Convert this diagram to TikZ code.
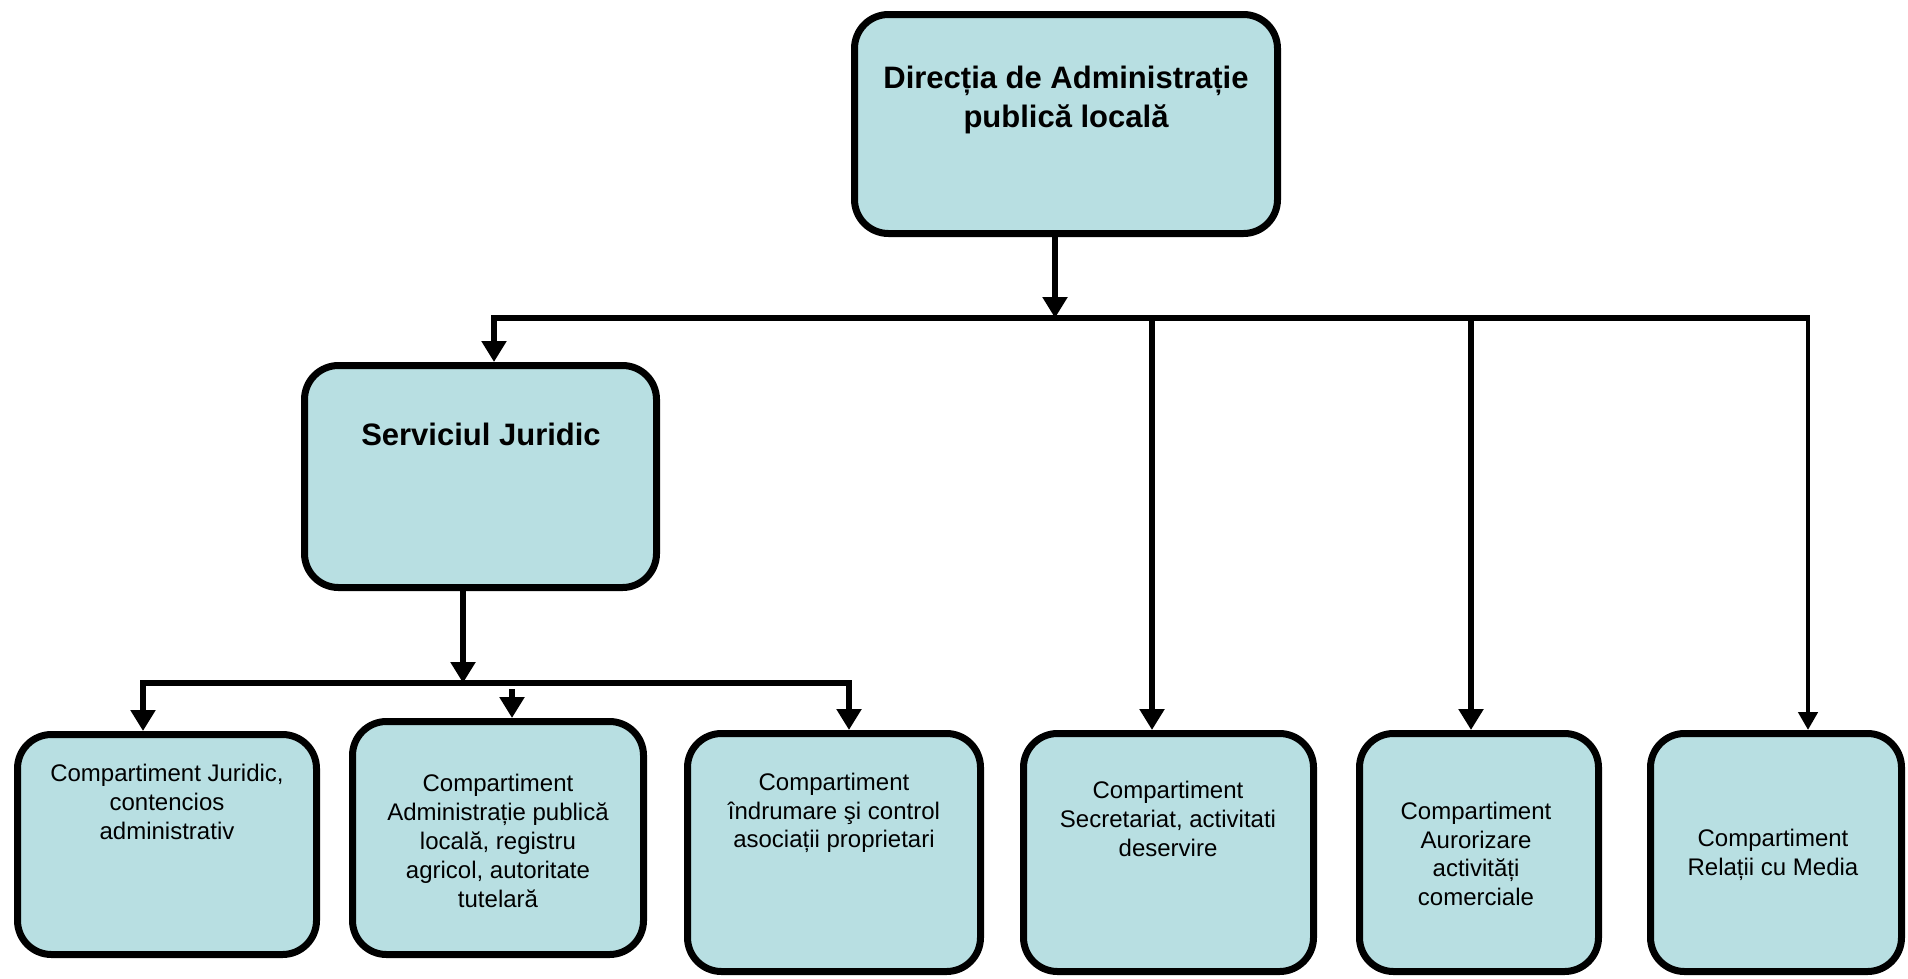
\documentclass[tikz,border=0pt]{standalone}
\usepackage{fontspec}
\setmainfont{Liberation Sans}
\usetikzlibrary{arrows.meta}
\definecolor{boxfill}{HTML}{B8DFE2}
\begin{document}
\begin{tikzpicture}[x=1pt,y=-1pt,
  unitbox/.style={draw=black,line width=7pt,fill=boxfill,rounded corners=34pt,
    inner sep=0pt},
  headtext/.style={align=center,font=\bfseries\fontsize{31}{39}\selectfont,inner sep=0pt},
  smalltext/.style={align=center,font=\fontsize{24}{28.8}\selectfont,inner sep=0pt},
  wire/.style={line width=6pt},
  arr/.style={line width=6pt,-{Triangle[length=21pt,width=24pt]}},
  thinarr/.style={line width=4.5pt,-{Triangle[length=18pt,width=19pt]}}]
\useasboundingbox (0,0) rectangle (1908,978);

% boxes
\node[unitbox,minimum width=423pt,minimum height=219pt] (dir) at (1066,124) {};
\node[unitbox,minimum width=352pt,minimum height=222pt] (sj) at (480.5,476.5) {};
\node[unitbox,minimum width=299pt,minimum height=220pt] (b1) at (167,844.5) {};
\node[unitbox,minimum width=291pt,minimum height=233pt] (b2) at (498,838) {};
\node[unitbox,minimum width=293pt,minimum height=238pt] (b3) at (834,852.5) {};
\node[unitbox,minimum width=290pt,minimum height=238pt] (b4) at (1168.5,852.5) {};
\node[unitbox,minimum width=239pt,minimum height=238pt] (b5) at (1479,852.5) {};
\node[unitbox,minimum width=251pt,minimum height=238pt] (b6) at (1776,852.5) {};

% labels
\node[headtext] (tdir) at (1066,100) {Direcția de Administrație\\publică locală};
\node[headtext] (tsj) at (481,434) {Serviciul Juridic};
\node[smalltext] (t1) at (167,802) {Compartiment Juridic,\\contencios\\administrativ};
\node[smalltext] (t2) at (498,841) {Compartiment\\Administrație publică\\locală, registru\\agricol, autoritate\\tutelară};
\node[smalltext] (t3) at (834,813) {Compartiment\\îndrumare şi control\\asociații proprietari};
\node[smalltext] (t4) at (1168,819) {Compartiment\\Secretariat, activitati\\deservire};
\node[smalltext] (t5) at (1476,854) {Compartiment\\Aurorizare\\activități\\comerciale};
\node[smalltext] (t6) at (1773,855) {Compartiment\\Relații cu Media};

% main distribution bar
\coordinate (busL) at (494,318);
\coordinate (busR) at (1808,318);
\coordinate (topdrop) at (1055,318);
\coordinate (drop4) at (1152,318);
\coordinate (drop5) at (1471,318);
\draw[wire] (busL) -- (busR);
\draw[arr] (dir.south -| topdrop) -- (topdrop);
\draw[arr] ([yshift=3pt]busL) -- (busL |- sj.north);
\draw[arr] (drop4) -- (drop4 |- b4.north);
\draw[arr] (drop5) -- (drop5 |- b5.north);
\draw[thinarr] ([yshift=3pt]busR) -- (busR |- b6.north);

% sub-bar under Serviciul Juridic
\coordinate (subL) at (143,683);
\coordinate (subR) at (849,683);
\coordinate (subdrop) at (463,683);
\coordinate (sub2) at (512,689);
\draw[wire] (subL) -- (subR);
\draw[arr] (sj.south -| subdrop) -- (subdrop);
\draw[arr] ([yshift=3pt]subL) -- (subL |- b1.north);
\draw[arr] (sub2) -- (sub2 |- b2.north);
\draw[arr] ([yshift=3pt]subR) -- (subR |- b3.north);
\end{tikzpicture}
\end{document}
